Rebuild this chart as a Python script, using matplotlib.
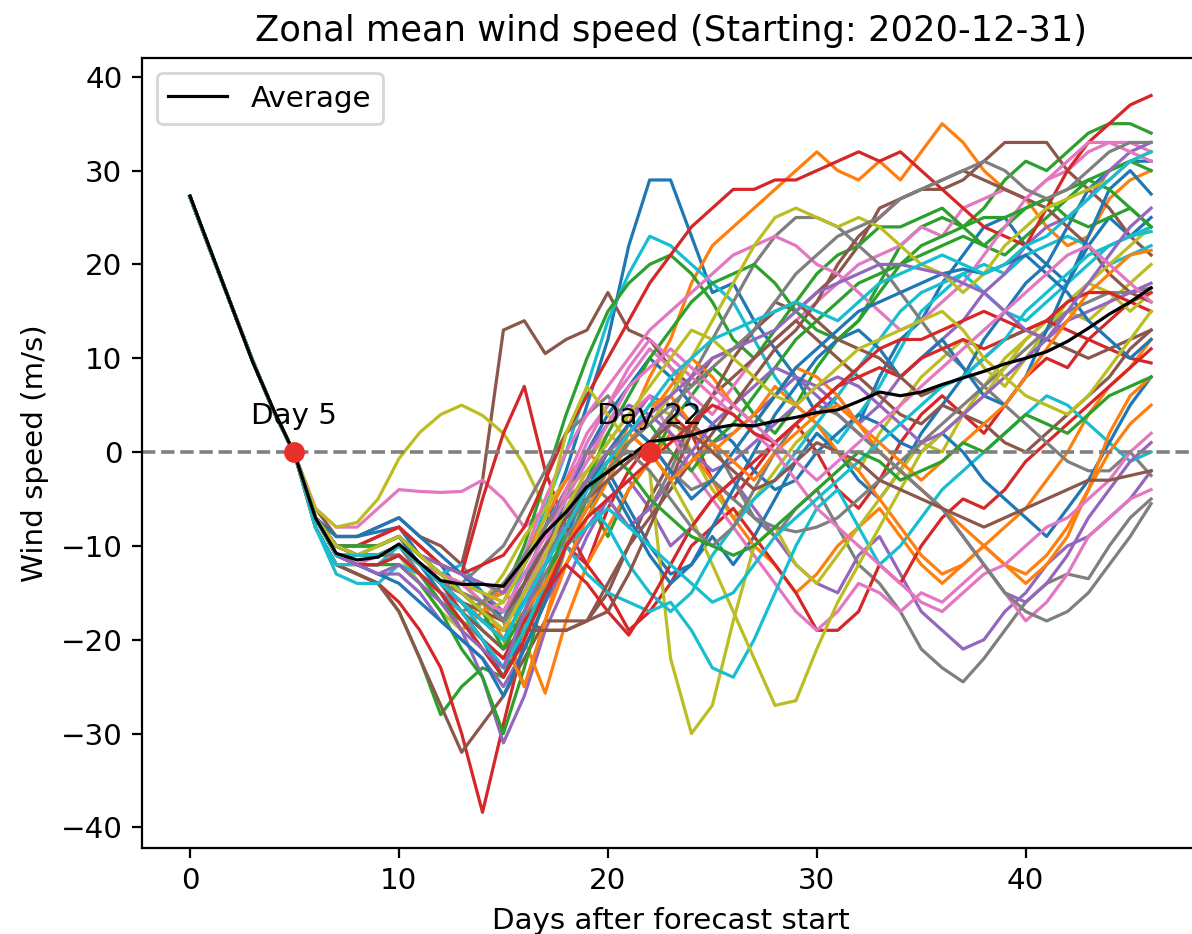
import numpy as np
import matplotlib.pyplot as plt

# Días de pronóstico (0 a 46)
days = np.arange(47)

# Tramo inicial común a todos los miembros (días 0-5)
start = [27.2, 21.3, 15.5, 9.7, 4.4, -0.2]

# Miembros del ensamble, días 6 a 46 (leídos a ojo de la figura)
members_tail = [
    [-7, -9, -9, -8.5, -8, -11, -12, -15, -17, -19, -14, -8, -2, 5, 12, 22, 29, 29, 23, 17,
     18, 14, 11, 8, 4, 6, 3, 8, 12, 14, 18, 21, 24, 25, 22, 20, 18, 22, 25, 23, 25],
    [-7, -10, -11, -10, -9, -12, -14, -15, -17, -18, -25, -18, -10, -5, -2, 3, 8, 12, 18, 22,
     24, 26, 28, 30, 32, 30, 29, 31, 29, 32, 35, 33, 30, 28, 27, 24, 22, 23, 27, 29, 30],
    [-8, -12, -13, -14, -17, -22, -28, -25, -23, -24, -18, -12, -8, -5, -9, -4, -1, 3, 6, 9,
     7, 4, 2, 5, 9, 12, 14, 18, 22, 24, 25, 24, 26, 29, 31, 30, 32, 34, 35, 35, 34],
    [-8, -12, -13, -14, -16, -19, -23, -30, -38.4, -29, -20, -14, -10, -12, -6, -2, 1, 4, 2, -3,
     -5, -2, 1, 3, 0, -4, -6, -3, 1, 4, 6, 4, 2, 5, 8, 10, 9, 12, 14, 16, 15],
    [-7, -11, -12, -12, -11, -13, -15, -19, -24, -31, -26, -19, -14, -9, -5, -3, -6, -10, -8, -5,
     -3, -6, -9, -12, -14, -15, -11, -9, -13, -17, -19, -21, -20, -17, -15, -12, -10, -9, -7, -5, -2],
    [-6, -9, -9, -8, -7, -9, -10, -12, -3, 13, 14, 10.5, 12, 13, 17, 13, 12, 9, 7, 10,
     11, 13, 16, 15, 17, 19, 22, 26, 27, 28, 28, 29, 31, 33, 33, 33, 30, 28, 26, 23, 21],
    [-6, -8, -8, -6, -4, -4.2, -4.3, -4.2, -3, -5, -8, -6, -3, 2, 5, 8, 11, 9, 6, 4,
     7, 10, 12, 14, 16, 18, 20, 21, 22, 24, 23, 26, 27, 28, 27, 29, 30, 32, 33, 33, 32],
    [-7, -10, -11, -11, -10, -12, -14, -16, -18, -17, -13, -10, -6, -3, -5, -8, -6, -2, 3, 1,
     -3, -7, -9, -6, -4, -8, -12, -14, -17, -21, -23, -24.5, -22, -19, -16, -14, -13, -13.5, -10, -7, -5],
    [-6, -8, -7.5, -5, -0.7, 2.1, 4, 5, 3.9, 2, -1.4, -6, -10, -7, -3, 2, 5, 4, 0, -4,
     -7, -5, -2, 1, 3, 0, -2, 2, 5, 8, 10, 12, 9, 7, 10, 13, 16, 18, 17, 15, 17],
    [-7, -11, -11, -10, -9, -11, -13, -12, -15, -18, -12, -6, 0, 7, 14, 19, 23, 22, 20, 18,
     16, 12, 8, 5, 3, 1, 4, 7, 11, 15, 17, 19, 20, 19, 21, 22, 23, 22, 20, 21, 22],
    [-7, -10, -10, -10, -9, -12, -15, -17, -20, -24, -19, -14, -9, -4, -2, -6, -10, -13, -12, -9,
     -12, -9, -5, -1, 2, 0, -3, -5, -2, 2, 5, 8, 12, 15, 18, 20, 24, 28, 30, 31, 31],
    [-8, -12, -12, -11, -11, -13, -16, -19, -17, -14, -20, -25.7, -18, -12, -8, -4, -1, 2, 0, -3,
     -7, -10, -12, -15, -13, -10, -8, -6, -9, -12, -14, -12, -10, -8, -6, -3, 0, 4, 7, 9, 12],
    [-7, -10, -11, -11, -10, -12, -13, -14, -16, -15, -10, -3, 4, 10, 15, 18, 20, 21, 19, 16,
     12, 10, 13, 16, 19, 21, 22, 24, 24, 25, 26, 24, 22, 21, 23, 25, 27, 29, 30, 31, 30],
    [-7, -10, -10, -9, -8, -10, -12, -13, -5, 2, 7, -2, -8, -12, -15, -19, -17, -14, -10, -8,
     -6, -9, -12, -15, -19, -19, -17, -12, -14, -10, -7, -5, -6, -4, -1, 1, 3, 5, 7, 9, 11],
    [-7, -10, -11, -11, -10, -12, -14, -14, -15, -17, -14, -10, -7, -4, 0, 3, 6, 5, 3, 1,
     2, 4, 6, 8, 7, 5, 3, 5, 8, 10, 12, 14, 17, 19, 22, 24, 25, 27, 30, 32, 33],
    [-8, -12, -13, -14, -17, -22, -27, -32, -29, -26, -22, -18, -18, -18, -15, -10, -5, -1, 3, 6,
     8, 10, 12, 14, 12, 10, 8, 6, 4, 3, 5, 4, 3, 1, 0, 2, 4, 6, 8, 11, 13],
    [-7, -11, -12, -12, -11, -13, -15, -16, -18, -20, -16, -11, -6, -2, 1, 4, 6, 2, -2, -5,
     -8, -11, -14, -17, -19, -17, -14, -15, -17, -15, -16, -14, -12, -15, -18, -16, -13, -9, -7, -5, -4],
    [-7, -10, -10, -10, -9, -11, -13, -14, -12, -10, -6, -2, 2, 4, 6, 3, 1, 4, 8, 12,
     16, 20, 23, 25, 25, 24, 22, 20, 17, 14, 11, 9, 7, 5, 3, 1, -1, -2, -2, 0, -2.5],
    [-7, -11, -12, -12, -11, -14, -17, -19, -16, -13, -9, -6, -3, -1, 2, 0, -2, -22, -30, -27,
     -18, -10, -8, -12, -14, -11, -8, -5, -2, 1, 0, 4, 7, 10, 12, 14, 15, 14, 16, 18, 20],
    [-8, -13, -14, -14, -12, -13, -15, -17, -20, -23, -17, -12, -10, -13, -15, -16, -17, -16, -19, -23,
     -24, -20, -15, -10, -6, -4, -8, -12, -10, -7, -4, -2, 0, 2, 4, 6, 5, 3, 1, -1, 0],
    [-7, -9, -9, -8, -7, -9, -11, -13, -15, -18, -14, -10, -5, 0, 4, 7, 10, 8, 5, 3,
     1, -2, -4, -3, 0, 2, 4, 3, 1, 0, 2, 0, -3, -5, -7, -9, -6, -3, 1, 5, 8],
    [-7, -10, -11, -11, -10, -12, -13, -15, -16, -15, -11, -7, -3, 0, -2, 2, 5, 6, 3, 0,
     2, 4, 7, 5, 3, 0, -2, -5, -8, -11, -13, -12, -10, -12, -14, -12, -9, -4, 2, 6, 8],
    [-7, -11, -12, -12, -12, -14, -17, -21, -24, -30, -23, -15, -10, -5, -1, 1, 3, 0, -2, 1,
     3, 6, 9, 12, 14, 16, 18, 19, 20, 21, 22, 23, 22, 24, 26, 27, 25, 24, 25, 26, 24],
    [-7, -10, -10, -9, -8, -10, -12, -13, -12, -11, -8, -3, 2, 6, 10, 14, 18, 21, 24, 26,
     28, 28, 29, 29, 30, 31, 32, 31, 32, 30, 28, 26, 24, 23, 22, 26, 30, 33, 35, 37, 38],
    [-7, -11, -12, -13, -13, -15, -18, -20, -22, -25, -21, -16, -12, -8, -5, -8, -6, -3, 0, 3,
     5, 7, 9, 8, 6, 4, 2, 0, -2, -4, -6, -9, -12, -15, -16, -14, -11, -7, -4, -1, 1],
    [-7, -10, -11, -11, -10, -12, -14, -16, -18, -19, -18, -19, -19, -18, -14, -10, -7, -4, -1, 2,
     5, 8, 11, 13, 16, 20, 23, 25, 27, 28, 29, 30, 29, 28, 27, 26, 24, 22, 19, 17, 16],
    [-7, -10, -11, -10, -9, -11, -13, -14, -15, -16, -11, -5, 0, 4, 7, 10, 13, 15, 17, 19,
     21, 22, 23, 22, 20, 19, 17, 15, 13, 14, 16, 18, 21, 24, 27, 29, 31, 33, 33, 32, 31],
    [-7, -10, -11, -11, -10, -13, -16, -18, -20, -22, -18, -13, -9, -6, -3, -1, 1, -2, -4, -3,
     -5, -7, -8, -8.5, -8, -7, -5, -3, -1, 1, 3, 5, 7, 9, 11, 13, 15, 16, 17, 17, 17.5],
    [-7, -10, -11, -11, -10, -12, -14, -16, -17, -16, -12, -8, -4, -2, 0, 2, 0, -3, -7, -12,
     -17, -22, -27, -26.5, -21, -16, -12, -8, -4, 0, 2, 4, 6, 9, 12, 14, 16, 18, 20, 22, 24],
    [-7, -11, -12, -12, -10, -12, -14, -16, -19, -21, -15, -10, -7, -5, -8, -12, -15, -17, -15, -11,
     -8, -5, -3, 0, 3, 6, 9, 12, 15, 17, 18, 19, 17, 15, 14, 16, 18, 20, 22, 23, 24],
    [-7, -11, -12, -13, -14, -16, -18, -20, -22, -26, -21, -16, -10, -6, -3, -7, -11, -14, -12, -8,
     -4, 0, 4, 7, 10, 12, 13, 11, 8, 10, 12, 9, 6, 5, 8, 13, 18, 23, 28, 30, 27.5],
    [-7, -10, -10, -10, -9, -11, -13, -15, -16, -20, -25, -18, -12, -7, -3, 1, 4, 7, 10, 8,
     5, 3, 6, 9, 8, 6, 3, 0, -2, -4, -6, -8, -10, -12, -13, -11, -8, -4, 0, 3, 5],
    [-7, -10, -11, -11, -11, -13, -16, -18, -21, -24, -20, -14, -8, -3, 2, 6, 10, 13, 16, 18,
     19, 20, 18, 15, 13, 12, 14, 17, 20, 22, 23, 24, 25, 25, 26, 27, 28, 29, 28, 26, 24],
    [-7, -11, -11, -11, -10, -12, -14, -17, -20, -22, -18, -15, -12, -14, -17, -19.5, -16, -12, -8, -5,
     -3, -1, 1, 3, 5, 7, 8, 9, 8, 10, 11, 12, 11, 12, 13, 14, 13, 12, 11, 10, 9.5],
    [-7, -10, -10, -10, -9, -11, -12, -13, -14, -15, -12, -8, -4, 0, 3, 5, 4, 2, 0, -2,
     -1, 1, 3, 5, 7, 8, 7, 5, 3, 1, 2, 4, 6, 8, 10, 12, 14, 15, 16, 17, 18],
    [-7, -11, -12, -12, -11, -13, -15, -17, -19, -21, -19, -19, -19, -18, -17, -13, -8, -3, 2, 6,
     10, 13, 15, 16, 14, 12, 11, 10, 8, 6, 7, 8, 10, 12, 13, 12, 11, 10, 11, 12, 13],
    [-7, -11, -12, -11, -10, -12, -14, -15, -17, -19, -15, -10, -4, 1, 5, 9, 12, 10, 8, 6,
     4, 2, 0, -3, -6, -8, -10, -12, -14, -16, -17, -15, -13, -12, -10, -8, -7, -5, -3, 0, 2],
    [-7, -10, -11, -11, -11, -13, -15, -17, -16, -14, -11, -8, -5, -3, -1, 0, -2, -5, -8, -10,
     -8, -4, 0, 3, 5, 4, 2, 0, -2, -4, -6, -9, -12, -15, -17, -18, -17, -15, -12, -9, -5.5],
    [-7, -10, -11, -10, -9, -11, -13, -14, -15, -16, -12, -7, 2, 7, 4, 1, 3, 6, 10, 14,
     18, 22, 25, 26, 25, 24, 25, 24, 22, 20, 19, 17, 19, 22, 24, 26, 27, 28, 29, 31, 32],
    [-8, -12, -12, -12, -11, -13, -15, -17, -20, -23, -19, -14, -10, -8, -6, -8, -10, -12, -14, -16,
     -15, -12, -9, -7, -5, -3, -1, 1, 3, 5, 7, 8, 10, 12, 15, 17, 19, 21, 22, 23, 23.5],
    [-7, -10, -11, -11, -10, -12, -14, -16, -18, -20, -16, -12, -8, -4, 0, 3, 1, -2, -5, -3,
     0, 3, 6, 9, 11, 13, 15, 16, 17, 18, 19, 19.5, 19, 20, 21, 19, 17, 14, 12, 10, 12],
    [-7, -10, -11, -11, -10, -12, -14, -15, -17, -19, -17, -14, -10, -6, -2, 2, 0, -3, -1, 1,
     -1, -3, 0, 2, 4, 5, 3, 1, -1, -3, -1, 1, 3, 5, 8, 11, 14, 17, 19, 21, 21.5],
    [-7, -10, -10, -10, -9, -11, -13, -15, -17, -21, -17, -12, -7, -3, 0, -2, -5, -7, -9, -10,
     -11, -10, -8, -6, -4, -2, 0, -1, -3, -2, -1, 1, 0, 2, 4, 3, 2, 4, 6, 7, 8],
    [-7, -11, -12, -12, -11, -13, -15, -18, -21, -24, -20, -15, -10, -7, -5, -3, -1, 1, 3, 5,
     4, 2, 1, 3, 5, 7, 9, 11, 12, 12, 13, 14, 15, 14, 13, 14, 16, 17, 17, 16, 17],
    [-7, -11, -12, -13, -12, -14, -16, -19, -21, -23, -17, -12, -7, -3, 0, 2, 4, 6, 8, 10,
     11, 12, 13, 15, 17, 18, 19, 20, 20, 19.5, 19, 18, 17, 15, 13, 12, 15, 18, 21, 24, 26],
    [-7, -10, -11, -11, -10, -12, -14, -16, -17, -18, -14, -10, -7, -5, -3, -1, 1, 3, 2, 0,
     -2, -4, -3, -1, 1, 0, -1, -3, -4, -5, -6, -7, -8, -7, -6, -5, -4, -3, -3, -2.5, -2],
    [-7, -10, -11, -11, -10, -12, -13, -14, -16, -17, -13, -9, -5, -1, 3, 7, 9, 11, 9, 7,
     5, 3, 1, -1, -3, -1, 1, 3, 5, 7, 9, 11, 13, 15, 17, 19, 21, 22, 20, 18, 16],
    [-7, -10, -11, -11, -10, -12, -14, -15, -16, -18, -15, -11, -8, -5, -2, 1, 3, 5, 7, 9,
     11, 13, 16, 19, 21, 23, 24, 25, 27, 28, 29, 30, 31, 30, 28, 27, 28, 30, 32, 33, 33],
    [-7, -10, -11, -10, -9, -11, -13, -15, -17, -19, -15, -11, -6, -2, 1, 4, 7, 10, 13, 12,
     10, 8, 6, 5, 7, 9, 11, 12, 13, 14, 15, 13, 10, 8, 6, 5, 4, 6, 9, 12, 15],
    [-7, -11, -11, -11, -10, -12, -14, -16, -18, -20, -16, -12, -8, -4, -1, 2, 5, 8, 10, 12,
     13, 14, 15, 16, 15, 14, 16, 18, 19, 20, 21, 20, 19, 20, 22, 23, 25, 27, 29, 31, 32],
]

# Promedio del ensamble (línea negra)
average = [27.3, 21.4, 15.5, 9.6, 4.5, -0.2, -7.0, -10.8, -11.5, -11.2,
           -9.8, -11.8, -13.7, -14.1, -14.1, -14.3, -11.5, -8.6, -6.4, -3.7,
           -2.1, -0.5, 1.1, 1.4, 1.8, 2.5, 2.9, 2.8, 3.3, 3.7,
           4.2, 4.5, 5.4, 6.4, 6.0, 6.4, 7.2, 7.9, 8.6, 9.4,
           10.0, 10.7, 11.8, 13.2, 14.7, 16.0, 17.5]

# Días en que el promedio cruza el cero
crossing_days = [5, 22]

plt.rcParams['font.size'] = 10.6
plt.rcParams['axes.titlesize'] = 12.7

fig = plt.figure(figsize=(5.96, 4.67), dpi=200)
ax = fig.add_axes([0.1191, 0.0921, 0.8869, 0.8458])

for tail in members_tail:
    ax.plot(days, start + tail, lw=1.15)

ax.plot(days, average, color='black', lw=1.15, label='Average')
ax.axhline(0, color='gray', linestyle='--', lw=1.3)

for d in crossing_days:
    ax.plot(d, 0, 'o', color='#e8302a', markersize=6.5, zorder=5)
    ax.annotate(f'Day {d}', (d, 0), xytext=(0, 10), textcoords='offset points',
                ha='center')

ax.set_xlim(-2.3, 48.3)
ax.set_ylim(-42.2, 42.0)
ax.set_title('Zonal mean wind speed (Starting: 2020-12-31)')
ax.set_xlabel('Days after forecast start')
ax.set_ylabel('Wind speed (m/s)')
ax.legend(loc='upper left')

fig.savefig('out.png', dpi=200)
